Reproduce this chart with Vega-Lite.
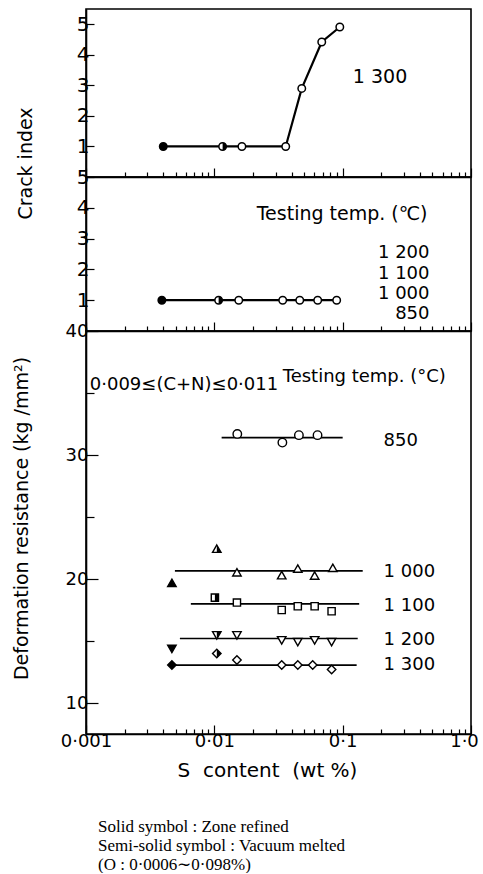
{
  "$schema": "https://vega.github.io/schema/vega-lite/v6.json",
  "padding": {"left": 11, "top": 8, "right": 0, "bottom": 0},
  "background": "white",
  "config": {
    "view": {"stroke": "black", "strokeWidth": 1.6},
    "axis": {
      "domainColor": "black", "domainWidth": 1.6,
      "tickColor": "black", "tickWidth": 1.2,
      "labelColor": "black", "titleColor": "black",
      "labelFont": "DejaVu Sans", "titleFont": "DejaVu Sans",
      "titleFontWeight": "normal", "grid": false,
      "labelOverlap": false, "labelBound": false, "labelFlush": false
    },
    "text": {"font": "DejaVu Sans", "color": "black"}
  },
  "title": {
    "text": ["Solid symbol : Zone refined", "Semi-solid symbol : Vacuum melted", "(O : 0·0006∼0·098%)"],
    "orient": "bottom", "anchor": "start", "frame": "group",
    "font": "Liberation Serif", "fontSize": 17, "fontWeight": "normal",
    "lineHeight": 19, "offset": 38, "dx": 12, "color": "black"
  },
  "datasets": {
    "crack_1300": [
      {"s": 0.0040, "value": 1, "melt": "Zone refined"},
      {"s": 0.0116, "value": 1, "melt": "Vacuum melted"},
      {"s": 0.0164, "value": 1, "melt": "Open"},
      {"s": 0.036, "value": 1, "melt": "Open"},
      {"s": 0.048, "value": 2.9, "melt": "Open"},
      {"s": 0.0687, "value": 4.42, "melt": "Open"},
      {"s": 0.095, "value": 4.91, "melt": "Open"}
    ],
    "crack_850_1200": [
      {"s": 0.0039, "value": 1, "melt": "Zone refined"},
      {"s": 0.0108, "value": 1, "melt": "Vacuum melted"},
      {"s": 0.0155, "value": 1, "melt": "Open"},
      {"s": 0.0341, "value": 1, "melt": "Open"},
      {"s": 0.0463, "value": 1, "melt": "Open"},
      {"s": 0.0639, "value": 1, "melt": "Open"},
      {"s": 0.0898, "value": 1, "melt": "Open"}
    ],
    "resistance": [
      {"temp": "850", "s": 0.0151, "value": 31.7, "melt": "Open"},
      {"temp": "850", "s": 0.0339, "value": 31.0, "melt": "Open"},
      {"temp": "850", "s": 0.0456, "value": 31.6, "melt": "Open"},
      {"temp": "850", "s": 0.0637, "value": 31.6, "melt": "Open"},
      {"temp": "1000", "s": 0.00467, "value": 19.65, "melt": "Zone refined"},
      {"temp": "1000", "s": 0.01045, "value": 22.4, "melt": "Vacuum melted"},
      {"temp": "1000", "s": 0.0150, "value": 20.5, "melt": "Open"},
      {"temp": "1000", "s": 0.0335, "value": 20.27, "melt": "Open"},
      {"temp": "1000", "s": 0.0447, "value": 20.8, "melt": "Open"},
      {"temp": "1000", "s": 0.0605, "value": 20.24, "melt": "Open"},
      {"temp": "1000", "s": 0.0838, "value": 20.86, "melt": "Open"},
      {"temp": "1100", "s": 0.0101, "value": 18.5, "melt": "Vacuum melted"},
      {"temp": "1100", "s": 0.0150, "value": 18.1, "melt": "Open"},
      {"temp": "1100", "s": 0.0335, "value": 17.5, "melt": "Open"},
      {"temp": "1100", "s": 0.0447, "value": 17.8, "melt": "Open"},
      {"temp": "1100", "s": 0.0605, "value": 17.8, "melt": "Open"},
      {"temp": "1100", "s": 0.082, "value": 17.4, "melt": "Open"},
      {"temp": "1200", "s": 0.00467, "value": 14.4, "melt": "Zone refined"},
      {"temp": "1200", "s": 0.01045, "value": 15.5, "melt": "Vacuum melted"},
      {"temp": "1200", "s": 0.0150, "value": 15.5, "melt": "Open"},
      {"temp": "1200", "s": 0.0335, "value": 15.1, "melt": "Open"},
      {"temp": "1200", "s": 0.0447, "value": 14.95, "melt": "Open"},
      {"temp": "1200", "s": 0.0605, "value": 15.1, "melt": "Open"},
      {"temp": "1200", "s": 0.082, "value": 14.95, "melt": "Open"},
      {"temp": "1300", "s": 0.00467, "value": 13.06, "melt": "Zone refined"},
      {"temp": "1300", "s": 0.01045, "value": 14.0, "melt": "Vacuum melted"},
      {"temp": "1300", "s": 0.0150, "value": 13.47, "melt": "Open"},
      {"temp": "1300", "s": 0.0335, "value": 13.06, "melt": "Open"},
      {"temp": "1300", "s": 0.0447, "value": 13.06, "melt": "Open"},
      {"temp": "1300", "s": 0.0584, "value": 13.06, "melt": "Open"},
      {"temp": "1300", "s": 0.082, "value": 12.7, "melt": "Open"}
    ],
    "fits": [
      {"temp": "850", "s": 0.0114, "s_to": 0.1, "value": 31.4},
      {"temp": "1000", "s": 0.00493, "s_to": 0.1433, "value": 20.65},
      {"temp": "1100", "s": 0.00656, "s_to": 0.1345, "value": 18.0},
      {"temp": "1200", "s": 0.00539, "s_to": 0.131, "value": 15.2},
      {"temp": "1300", "s": 0.00467, "s_to": 0.1285, "value": 13.06}
    ],
    "notes": [
      {"panel": "top", "role": "temp", "text": "1 300", "s": 0.12, "value": 3.27},
      {"panel": "middle", "role": "heading", "text": "Testing temp. (℃)", "s": 0.0214, "value": 3.8},
      {"panel": "middle", "role": "temp", "text": "1 200", "s": 0.475, "value": 2.52},
      {"panel": "middle", "role": "temp", "text": "1 100", "s": 0.475, "value": 1.86},
      {"panel": "middle", "role": "temp", "text": "1 000", "s": 0.475, "value": 1.2},
      {"panel": "middle", "role": "temp", "text": "850", "s": 0.475, "value": 0.56},
      {"panel": "bottom", "role": "heading", "text": "0·009≤(C+N)≤0·011", "s": 0.00107, "value": 35.65},
      {"panel": "bottom", "role": "heading", "text": "Testing temp. (°C)", "s": 0.0341, "value": 36.3},
      {"panel": "bottom", "role": "temp", "text": "850", "s": 0.2085, "value": 31.1},
      {"panel": "bottom", "role": "temp", "text": "1 000", "s": 0.2085, "value": 20.56},
      {"panel": "bottom", "role": "temp", "text": "1 100", "s": 0.2085, "value": 17.8},
      {"panel": "bottom", "role": "temp", "text": "1 200", "s": 0.2085, "value": 15.1},
      {"panel": "bottom", "role": "temp", "text": "1 300", "s": 0.2085, "value": 13.06}
    ]
  },
  "spacing": 0,
  "bounds": "flush",
  "vconcat": [
    {
      "width": 385,
      "height": 168,
      "encoding": {
        "x": {
          "field": "s", "type": "quantitative",
          "scale": {"type": "log", "domain": [0.001, 1], "nice": false},
          "axis": {
            "values": [0.001, 0.002, 0.003, 0.004, 0.005, 0.006, 0.007, 0.008, 0.009, 0.01, 0.02, 0.03, 0.04, 0.05, 0.06, 0.07, 0.08, 0.09, 0.1, 0.2, 0.3, 0.4, 0.5, 0.6, 0.7, 0.8, 0.9, 1],
            "tickSize": {"condition": {"test": "indexof([0.001, 0.01, 0.1, 1], datum.value) >= 0", "value": -9}, "value": -5},
            "labels": false, "title": null
          }
        },
        "y": {
          "field": "value", "type": "quantitative",
          "scale": {"domain": [0, 5.5], "nice": false, "zero": false},
          "axis": {
            "values": [1, 2, 3, 4, 5], "tickSize": -8,
            "labelFontSize": 20, "labelPadding": 5,
            "title": "Crack index", "titleFontSize": 19,
            "titleX": -61, "titleY": 154, "titleBaseline": "middle"
          }
        }
      },
      "layer": [
        {
          "data": {"name": "crack_1300"},
          "mark": {"type": "line", "color": "black", "strokeWidth": 2.2}
        },
        {
          "data": {"name": "crack_1300"},
          "mark": {"type": "point", "filled": true, "stroke": "black", "strokeWidth": 1.5, "size": 56, "opacity": 1, "shape": "circle"},
          "encoding": {
            "fill": {"field": "melt", "type": "nominal", "legend": null,
              "scale": {"domain": ["Zone refined", "Vacuum melted", "Open"], "range": ["black", "white", "white"]}}
          }
        },
        {
          "data": {"name": "crack_1300"},
          "transform": [{"filter": "datum.melt == 'Vacuum melted'"}],
          "mark": {"type": "point", "filled": true, "color": "black", "strokeWidth": 0, "size": 56, "opacity": 1, "shape": "M0,-1A1,1,0,0,1,0,1Z"}
        },
        {
          "data": {"name": "notes"},
          "transform": [{"filter": "datum.panel == 'top'"}],
          "mark": {"type": "text", "align": "left", "baseline": "middle", "fontSize": 19},
          "encoding": {"text": {"field": "text"}}
        }
      ]
    },
    {
      "width": 385,
      "height": 154,
      "encoding": {
        "x": {
          "field": "s", "type": "quantitative",
          "scale": {"type": "log", "domain": [0.001, 1], "nice": false},
          "axis": {
            "values": [0.001, 0.002, 0.003, 0.004, 0.005, 0.006, 0.007, 0.008, 0.009, 0.01, 0.02, 0.03, 0.04, 0.05, 0.06, 0.07, 0.08, 0.09, 0.1, 0.2, 0.3, 0.4, 0.5, 0.6, 0.7, 0.8, 0.9, 1],
            "tickSize": {"condition": {"test": "indexof([0.001, 0.01, 0.1, 1], datum.value) >= 0", "value": -9}, "value": -5},
            "labels": false, "title": null
          }
        },
        "y": {
          "field": "value", "type": "quantitative",
          "scale": {"domain": [0, 5], "nice": false, "zero": false},
          "axis": {
            "values": [1, 2, 3, 4, 5], "tickSize": -8,
            "labelFontSize": 20, "labelPadding": 5, "title": null
          }
        }
      },
      "layer": [
        {
          "data": {"name": "crack_850_1200"},
          "mark": {"type": "line", "color": "black", "strokeWidth": 2.2}
        },
        {
          "data": {"name": "crack_850_1200"},
          "mark": {"type": "point", "filled": true, "stroke": "black", "strokeWidth": 1.5, "size": 56, "opacity": 1, "shape": "circle"},
          "encoding": {
            "fill": {"field": "melt", "type": "nominal", "legend": null,
              "scale": {"domain": ["Zone refined", "Vacuum melted", "Open"], "range": ["black", "white", "white"]}}
          }
        },
        {
          "data": {"name": "crack_850_1200"},
          "transform": [{"filter": "datum.melt == 'Vacuum melted'"}],
          "mark": {"type": "point", "filled": true, "color": "black", "strokeWidth": 0, "size": 56, "opacity": 1, "shape": "M0,-1A1,1,0,0,1,0,1Z"}
        },
        {
          "data": {"name": "notes"},
          "transform": [{"filter": "datum.panel == 'middle' && datum.role == 'heading'"}],
          "mark": {"type": "text", "align": "left", "baseline": "middle", "fontSize": 19},
          "encoding": {"text": {"field": "text"}}
        },
        {
          "data": {"name": "notes"},
          "transform": [{"filter": "datum.panel == 'middle' && datum.role == 'temp'"}],
          "mark": {"type": "text", "align": "right", "baseline": "middle", "fontSize": 18},
          "encoding": {"text": {"field": "text"}}
        }
      ]
    },
    {
      "width": 385,
      "height": 403,
      "encoding": {
        "x": {
          "field": "s", "type": "quantitative",
          "scale": {"type": "log", "domain": [0.001, 1], "nice": false},
          "axis": {
            "values": [0.001, 0.002, 0.003, 0.004, 0.005, 0.006, 0.007, 0.008, 0.009, 0.01, 0.02, 0.03, 0.04, 0.05, 0.06, 0.07, 0.08, 0.09, 0.1, 0.2, 0.3, 0.4, 0.5, 0.6, 0.7, 0.8, 0.9, 1],
            "tickSize": {"condition": {"test": "indexof([0.001, 0.01, 0.1, 1], datum.value) >= 0", "value": -9}, "value": -5},
            "labelExpr": "datum.value == 0.001 ? '0·001' : datum.value == 0.01 ? '0·01' : datum.value == 0.1 ? '0·1' : datum.value == 1 ? '1·0' : ''",
            "labelOffset": {"condition": {"test": "datum.value == 1", "value": -7}, "value": 0},
            "labelFontSize": 18, "labelPadding": 7,
            "title": "S\u00a0 content\u00a0 (wt %)", "titleFontSize": 20, "titlePadding": 6,
            "titleX": 181
          }
        },
        "y": {
          "field": "value", "type": "quantitative",
          "scale": {"domain": [7.5, 40], "nice": false, "zero": false},
          "axis": {
            "values": [10, 15, 20, 25, 30, 35, 40],
            "tickSize": {"condition": {"test": "datum.value % 10 == 0", "value": -12}, "value": -8},
            "labelExpr": "datum.value % 10 == 0 ? datum.label : ''",
            "labelFontSize": 18, "labelPadding": 10,
            "title": "Deformation resistance (kg /mm²)", "titleFontSize": 19,
            "titleX": -65, "titleY": 187, "titleBaseline": "middle"
          }
        }
      },
      "resolve": {"scale": {"shape": "independent"}},
      "layer": [
        {
          "data": {"name": "fits"},
          "mark": {"type": "rule", "color": "black", "strokeWidth": 1.7},
          "encoding": {"x2": {"field": "s_to"}}
        },
        {
          "data": {"name": "resistance"},
          "mark": {"type": "point", "filled": true, "stroke": "black", "strokeWidth": 1.4, "size": 72, "opacity": 1},
          "encoding": {
            "shape": {"field": "temp", "type": "nominal", "legend": null,
              "scale": {"domain": ["850", "1000", "1100", "1200", "1300"],
                "range": ["M1,0A1,1,0,1,1,-1,0A1,1,0,1,1,1,0Z", "M0,-1L1,0.75L-1,0.75Z", "M-0.85,-0.85H0.85V0.85H-0.85Z", "M-1,-0.75L1,-0.75L0,1Z", "M0,-1L1,0L0,1L-1,0Z"]}},
            "fill": {"field": "melt", "type": "nominal", "legend": null,
              "scale": {"domain": ["Zone refined", "Vacuum melted", "Open"], "range": ["black", "white", "white"]}}
          }
        },
        {
          "data": {"name": "resistance"},
          "transform": [{"filter": "datum.melt == 'Vacuum melted'"}],
          "mark": {"type": "point", "filled": true, "color": "black", "strokeWidth": 0, "size": 72, "opacity": 1},
          "encoding": {
            "shape": {"field": "temp", "type": "nominal", "legend": null,
              "scale": {"domain": ["850", "1000", "1100", "1200", "1300"],
                "range": ["M0,-1A1,1,0,0,1,0,1Z", "M0,-1L1,0.75L0,0.75Z", "M0,-0.85H0.85V0.85H0Z", "M0,-0.75L1,-0.75L0,1Z", "M0,-1L1,0L0,1Z"]}}
          }
        },
        {
          "data": {"name": "notes"},
          "transform": [{"filter": "datum.panel == 'bottom'"}],
          "mark": {"type": "text", "align": "left", "baseline": "middle", "fontSize": 18},
          "encoding": {"text": {"field": "text"}}
        }
      ]
    }
  ]
}
